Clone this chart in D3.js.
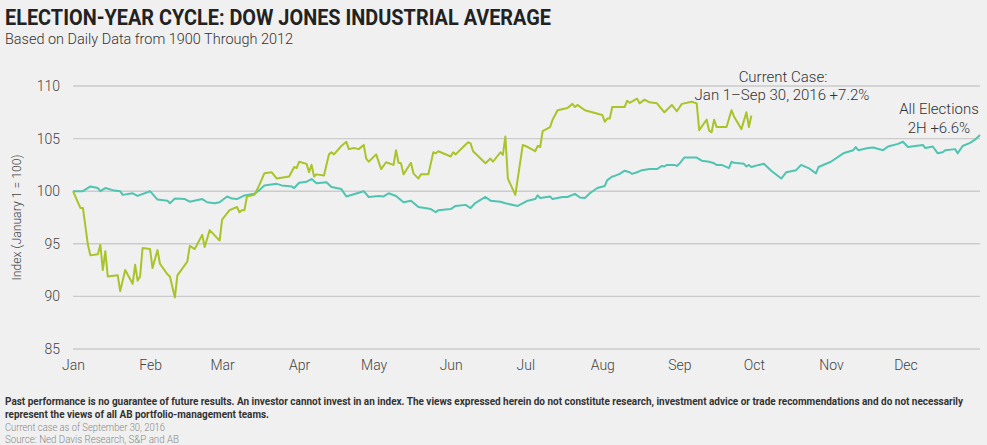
<!DOCTYPE html>
<html>
<head>
<meta charset="utf-8">
<script src="https://cdn.jsdelivr.net/npm/d3@7"></script>
<style>
  body { margin: 0; background: #f0f0f0; }
  svg { display: block; }
  text { font-family: Roboto, "Liberation Sans", sans-serif; }
</style>
</head>
<body>
<script>
// day of year (0 = Jan 1) and index level
const currentDays = [0, 3, 4, 6, 7, 10, 11, 12, 13, 14, 18, 19, 21, 24, 25, 26, 27, 28, 31, 32, 34, 35, 38, 39, 41, 42, 46, 47, 49, 52, 53, 55, 59, 60, 63, 66, 67, 68, 69, 70, 73, 75, 77, 80, 82, 87, 89, 90, 91, 94, 95, 96, 97, 98, 101, 103, 104, 105, 108, 110, 111, 113, 115, 117, 118, 119, 122, 124, 126, 129, 130, 131, 132, 133, 136, 137, 139, 140, 143, 145, 146, 147, 152, 153, 154, 157, 159, 160, 161, 166, 168, 169, 172, 173, 174, 175, 178, 181, 183, 186, 187, 188, 189, 192, 193, 195, 199, 201, 202, 203, 206, 213, 214, 215, 216, 217, 222, 223, 224, 227, 228, 230, 232, 235, 238, 241, 243, 245, 249, 251, 252, 255, 256, 257, 258, 259, 263, 265, 266, 269, 271, 272, 273];
const currentValues = [100, 98.4, 98.4, 94.9, 93.9, 94.0, 94.9, 92.5, 94.3, 91.9, 92.0, 90.5, 92.5, 91.2, 93.0, 91.5, 91.9, 94.6, 94.5, 92.7, 94.4, 93.1, 92.1, 91.9, 89.9, 92.0, 93.3, 94.8, 94.5, 95.85, 94.7, 96.3, 95.3, 97.3, 98.2, 98.5, 98.0, 98.2, 98.2, 99.5, 99.65, 100.6, 101.7, 101.8, 101.2, 101.4, 102.3, 102.2, 102.8, 102.6, 101.8, 102.5, 101.4, 101.6, 101.5, 103.5, 103.7, 103.5, 104.3, 104.7, 104.0, 104.1, 104.0, 104.4, 103.1, 102.8, 103.5, 102.1, 102.75, 102.5, 103.9, 102.7, 102.65, 101.6, 102.7, 101.7, 101.2, 101.6, 101.6, 103.7, 103.6, 103.8, 103.3, 103.7, 103.5, 104.2, 104.65, 104.55, 103.8, 102.65, 103.1, 102.8, 103.7, 103.45, 105.2, 101.2, 99.65, 104.4, 104.2, 103.8, 104.3, 104.2, 105.7, 106.1, 106.8, 107.7, 107.9, 108.3, 108.0, 108.2, 107.7, 107.25, 106.6, 106.9, 106.9, 108.0, 108.0, 108.6, 108.4, 108.8, 108.35, 108.7, 108.45, 108.35, 107.5, 108.2, 107.6, 108.3, 108.5, 108.35, 105.8, 106.8, 105.75, 105.6, 106.8, 106.1, 106.1, 107.7, 107.1, 105.9, 107.5, 106.1, 107.2];

const allDays = [0, 4, 7, 10, 11, 13, 16, 19, 20, 24, 26, 31, 34, 38, 39, 41, 45, 47, 52, 54, 57, 59, 62, 64, 66, 69, 73, 75, 77, 82, 84, 88, 89, 91, 94, 96, 98, 102, 104, 108, 110, 117, 119, 123, 125, 127, 130, 133, 136, 139, 144, 146, 147, 152, 154, 158, 160, 162, 166, 168, 172, 174, 179, 183, 186, 187, 188, 192, 193, 197, 199, 202, 204, 206, 208, 211, 214, 215, 217, 218, 220, 222, 224, 225, 227, 229, 232, 235, 237, 238, 239, 242, 243, 244, 246, 251, 253, 256, 258, 259, 261, 264, 265, 266, 270, 271, 272, 273, 276, 278, 281, 285, 287, 289, 291, 293, 296, 299, 300, 305, 310, 314, 315, 316, 320, 322, 326, 328, 332, 334, 336, 339, 342, 343, 346, 348, 350, 351, 355, 356, 358, 361, 363, 365];
const allValues = [100, 100, 100.45, 100.3, 100.0, 100.3, 100.1, 100.0, 99.65, 99.8, 99.55, 100.0, 99.2, 99.1, 98.85, 99.3, 99.25, 99.0, 99.25, 98.95, 98.85, 98.95, 99.5, 99.3, 99.25, 99.6, 99.75, 100.1, 100.55, 100.7, 100.55, 100.45, 100.3, 100.8, 100.9, 101.15, 100.75, 100.85, 100.4, 100.2, 99.5, 100.0, 99.45, 99.55, 99.5, 99.8, 99.55, 98.95, 99.1, 98.5, 98.3, 98.0, 98.2, 98.3, 98.6, 98.7, 98.4, 98.9, 99.45, 99.1, 99.0, 98.85, 98.6, 99.1, 99.25, 99.6, 99.35, 99.5, 99.25, 99.45, 99.45, 99.75, 99.4, 99.35, 99.8, 100.3, 100.5, 101.05, 101.4, 101.45, 101.65, 101.95, 101.8, 101.65, 101.8, 102.0, 102.1, 102.1, 102.4, 102.35, 102.5, 102.5, 102.4, 102.6, 103.2, 103.2, 102.9, 102.8, 102.65, 102.5, 102.5, 102.2, 102.8, 102.7, 102.6, 102.35, 102.5, 102.3, 102.5, 102.6, 101.95, 101.2, 101.8, 101.9, 102.0, 102.5, 102.2, 101.7, 102.3, 102.8, 103.6, 103.9, 104.2, 103.9, 104.1, 104.15, 103.9, 104.25, 104.5, 104.7, 104.2, 104.3, 104.4, 104.1, 104.25, 103.6, 103.7, 103.9, 104.0, 103.6, 104.3, 104.6, 104.9, 105.35];

const yTicks = [85, 90, 95, 100, 105, 110];
const footerNotes = [
  'Past performance is no guarantee of future results.  An investor cannot invest in an index. The views expressed herein do not constitute research, investment advice or trade recommendations and do not necessarily',
  'represent the views of all AB portfolio-management teams.'
];
const sourceNotes = [
  'Current case as of September 30, 2016',
  'Source: Ned Davis Research, S&P and AB'
];

const width = 987;
const height = 445;
const margin = { left: 73, right: 980, top: 86, bottom: 349 };
const jan1 = new Date(2016, 0, 1);

const svg = d3.select('body')
  .append('svg')
    .attr('width', width)
    .attr('height', height);

svg.append('rect')
  .attr('width', width)
  .attr('height', height)
  .attr('fill', '#f0f0f0');

const x = d3.scaleTime()
  .domain([jan1, new Date(2016, 11, 31)])
  .range([margin.left, margin.right]);

const y = d3.scaleLinear()
  .domain([85, 110])
  .range([margin.bottom, margin.top]);

// the original type is a condensed face, so squeeze the long lines to its widths
const squeeze = (sel, w) => sel.attr('textLength', w).attr('lengthAdjust', 'spacingAndGlyphs');

// title block
svg.append('text')
  .attr('x', 5)
  .attr('y', 25)
  .attr('font-size', 22.5)
  .attr('font-weight', 'bold')
  .attr('fill', '#222')
  .text('ELECTION-YEAR CYCLE: DOW JONES INDUSTRIAL AVERAGE')
  .call(squeeze, 546);

svg.append('text')
  .attr('x', 5)
  .attr('y', 43.5)
  .attr('font-size', 14.5)
  .attr('font-weight', 300)
  .attr('fill', '#333')
  .text('Based on Daily Data from 1900 Through 2012')
  .call(squeeze, 288);

// gridlines
svg.append('g')
  .selectAll('line')
  .data(yTicks)
  .enter()
  .append('line')
    .attr('x1', margin.left)
    .attr('x2', margin.right)
    .attr('y1', d => y(d))
    .attr('y2', d => y(d))
    .attr('stroke', '#cbcbcb')
    .attr('stroke-width', 1.4);

// y axis labels
const yAxis = svg.append('g')
  .attr('transform', `translate(${margin.left - 13},0)`)
  .call(d3.axisLeft(y).tickValues(yTicks).tickSize(0).tickPadding(0));
yAxis.select('.domain').remove();
yAxis.selectAll('text')
  .attr('font-family', null)
  .attr('font-size', 14)
  .attr('font-weight', 300)
  .attr('fill', '#444');

svg.append('text')
  .attr('transform', `translate(21,${(margin.top + margin.bottom) / 2}) rotate(-90)`)
  .attr('text-anchor', 'middle')
  .attr('font-size', 13)
  .attr('font-weight', 300)
  .attr('fill', '#444')
  .text('Index (January 1 = 100)')
  .call(squeeze, 126);

// x axis month labels
const xAxis = svg.append('g')
  .attr('transform', `translate(0,${margin.bottom + 11})`)
  .call(d3.axisBottom(x).ticks(d3.timeMonth.every(1)).tickFormat(d3.timeFormat('%b')).tickSize(0).tickPadding(0));
xAxis.select('.domain').remove();
xAxis.selectAll('text')
  .attr('font-family', null)
  .attr('font-size', 14)
  .attr('font-weight', 300)
  .attr('fill', '#444');

// series
const line = d3.line()
  .x(d => x(d3.timeDay.offset(jan1, d[0])))
  .y(d => y(d[1]));

svg.append('path')
  .datum(d3.zip(allDays, allValues))
  .attr('d', line)
  .attr('fill', 'none')
  .attr('stroke', '#4fc4b1')
  .attr('stroke-width', 2)
  .attr('stroke-linejoin', 'round');

svg.append('path')
  .datum(d3.zip(currentDays, currentValues))
  .attr('d', line)
  .attr('fill', 'none')
  .attr('stroke', '#a8c428')
  .attr('stroke-width', 2)
  .attr('stroke-linejoin', 'round');

// annotations
const note = (tx, ty, str) => svg.append('text')
  .attr('x', tx)
  .attr('y', ty)
  .attr('text-anchor', 'middle')
  .attr('font-size', 15)
  .attr('font-weight', 300)
  .attr('fill', '#333')
  .text(str);

note(783, 82, 'Current Case:');
note(782, 100, 'Jan 1\u2013Sep 30, 2016 +7.2%');
note(939, 114, 'All Elections');
note(939, 133, '2H +6.6%');

// footer
const footerWidths = [958, 264];
svg.append('g')
  .selectAll('text')
  .data(footerNotes)
  .enter()
  .append('text')
    .attr('x', 5)
    .attr('y', (d, i) => 405 + i * 13)
    .attr('font-size', 10)
    .attr('font-weight', 'bold')
    .attr('fill', '#333')
    .text(d => d)
    .each(function (d, i) { squeeze(d3.select(this), footerWidths[i]); });

const sourceWidths = [160, 174];
svg.append('g')
  .selectAll('text')
  .data(sourceNotes)
  .enter()
  .append('text')
    .attr('x', 5)
    .attr('y', (d, i) => 431 + i * 12)
    .attr('font-size', 10)
    .attr('font-weight', 300)
    .attr('fill', '#888')
    .text(d => d)
    .each(function (d, i) { squeeze(d3.select(this), sourceWidths[i]); });
</script>
</body>
</html>
